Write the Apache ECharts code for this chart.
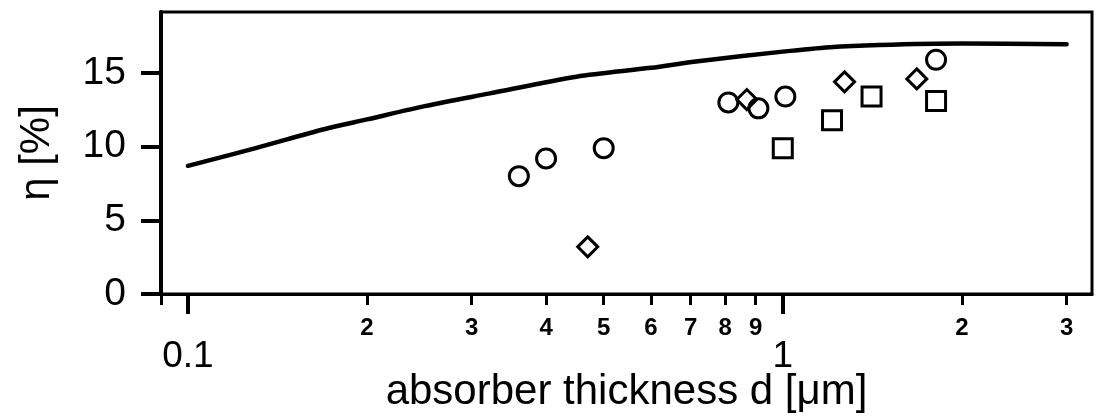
<!DOCTYPE html>
<html>
<head>
<meta charset="utf-8">
<script src="https://cdn.jsdelivr.net/npm/echarts@6/dist/echarts.min.js"></script>
<style>
  html, body { margin: 0; padding: 0; background: #fff; }
  #chart { width: 1097px; height: 416px; }
</style>
</head>
<body>
<div id="chart"></div>
<script>
// Model efficiency curve vs. absorber thickness (µm)
const curveD   = [0.1, 0.13, 0.17, 0.2, 0.25, 0.32, 0.45, 0.6, 0.72, 1.0, 1.2, 1.45, 2.0, 3.0];
const curveEta = [8.7, 9.9, 11.2, 11.85, 12.75, 13.6, 14.75, 15.35, 15.8, 16.45, 16.75, 16.9, 17.0, 16.95];

// Measured cells, three groups
const circleD    = [0.36, 0.40, 0.50, 0.81, 0.91, 1.01, 1.81];
const circleEta  = [8.0, 9.2, 9.9, 13.0, 12.6, 13.4, 15.9];
const squareD    = [1.0, 1.21, 1.41, 1.81];
const squareEta  = [9.9, 11.8, 13.4, 13.1];
const diamondD   = [0.47, 0.87, 1.27, 1.68];
const diamondEta = [3.2, 13.2, 14.4, 14.6];

// Axis ticks and labels
const xMin = 0.0901, xMax = 3.31;
const yMax = 19.14;
const minorTicks  = [0.2, 0.3, 0.4, 0.5, 0.6, 0.7, 0.8, 0.9, 2, 3];
const minorLabels = ['2', '3', '4', '5', '6', '7', '8', '9', '2', '3'];
const decadeTicks  = [0.1, 1];
const decadeLabels = ['0.1', '1'];
const yTicks = [0, 5, 10, 15];

const FONT = "'Liberation Sans', Arial, Helvetica, sans-serif";
const pairs = (xs, ys) => xs.map((x, i) => [x, ys[i]]);
const lookup = (vals, labels) => v => {
  const i = vals.findIndex(t => Math.abs(t - v) < 1e-6 * Math.max(1, t));
  return i >= 0 ? labels[i] : '';
};

const chart = echarts.init(document.getElementById('chart'), null, { renderer: 'canvas' });

const openMarker = {
  color: 'transparent',
  borderColor: '#000',
  borderWidth: 3,
  opacity: 1
};

chart.setOption({
  backgroundColor: '#fff',
  animation: false,
  grid: {
    left: 161, right: 5, top: 12, bottom: 122,
    outerBoundsMode: 'none',
    containLabel: false,
    show: true,
    borderColor: '#000',
    borderWidth: 3,
    backgroundColor: 'transparent'
  },
  xAxis: [
    {
      type: 'log',
      logBase: 10,
      min: xMin,
      max: xMax,
      position: 'bottom',
      name: 'absorber thickness d [μm]',
      nameLocation: 'middle',
      nameGap: 77,
      nameTextStyle: { fontFamily: FONT, fontSize: 42, color: '#000' },
      axisLine: { show: true, onZero: false, lineStyle: { color: '#000', width: 3 } },
      axisTick: {
        show: true, inside: false, length: 11,
        customValues: [xMin].concat(minorTicks),
        lineStyle: { color: '#000', width: 3 }
      },
      axisLabel: {
        show: true,
        customValues: minorTicks,
        formatter: lookup(minorTicks, minorLabels),
        margin: 22,
        fontFamily: FONT, fontSize: 24, fontWeight: 'bold', color: '#000'
      },
      splitLine: { show: false },
      minorTick: { show: false }
    },
    {
      type: 'log',
      logBase: 10,
      min: xMin,
      max: xMax,
      position: 'bottom',
      axisLine: { show: false },
      axisTick: {
        show: true, inside: false, length: 20,
        customValues: decadeTicks,
        lineStyle: { color: '#000', width: 4 }
      },
      axisLabel: {
        show: true,
        customValues: decadeTicks,
        formatter: lookup(decadeTicks, decadeLabels),
        margin: 44,
        fontFamily: FONT, fontSize: 37, color: '#000'
      },
      splitLine: { show: false }
    }
  ],
  yAxis: {
    type: 'value',
    min: 0,
    max: yMax,
    name: 'η [%]',
    nameLocation: 'middle',
    nameRotate: 90,
    nameGap: 103,
    nameTextStyle: { fontFamily: FONT, fontSize: 42, color: '#000' },
    axisLine: { show: true, lineStyle: { color: '#000', width: 4 } },
    axisTick: {
      show: true, inside: false, length: 20,
      customValues: yTicks,
      lineStyle: { color: '#000', width: 4 }
    },
    axisLabel: {
      show: true,
      customValues: yTicks,
      margin: 35,
      fontFamily: FONT, fontSize: 39, color: '#000'
    },
    splitLine: { show: false }
  },
  series: [
    {
      type: 'line',
      xAxisIndex: 0,
      data: pairs(curveD, curveEta),
      smooth: 0.3,
      showSymbol: false,
      lineStyle: { color: '#000', width: 4.5, join: 'round', cap: 'round' },
      z: 2
    },
    {
      type: 'scatter',
      xAxisIndex: 0,
      data: pairs(circleD, circleEta),
      symbol: 'circle',
      symbolSize: 19,
      itemStyle: openMarker,
      z: 3
    },
    {
      type: 'scatter',
      xAxisIndex: 0,
      data: pairs(squareD, squareEta),
      symbol: 'rect',
      symbolSize: 19,
      itemStyle: openMarker,
      z: 3
    },
    {
      type: 'scatter',
      xAxisIndex: 0,
      data: pairs(diamondD, diamondEta),
      symbol: 'diamond',
      symbolSize: 20,
      itemStyle: openMarker,
      z: 3
    }
  ]
});
</script>
</body>
</html>
